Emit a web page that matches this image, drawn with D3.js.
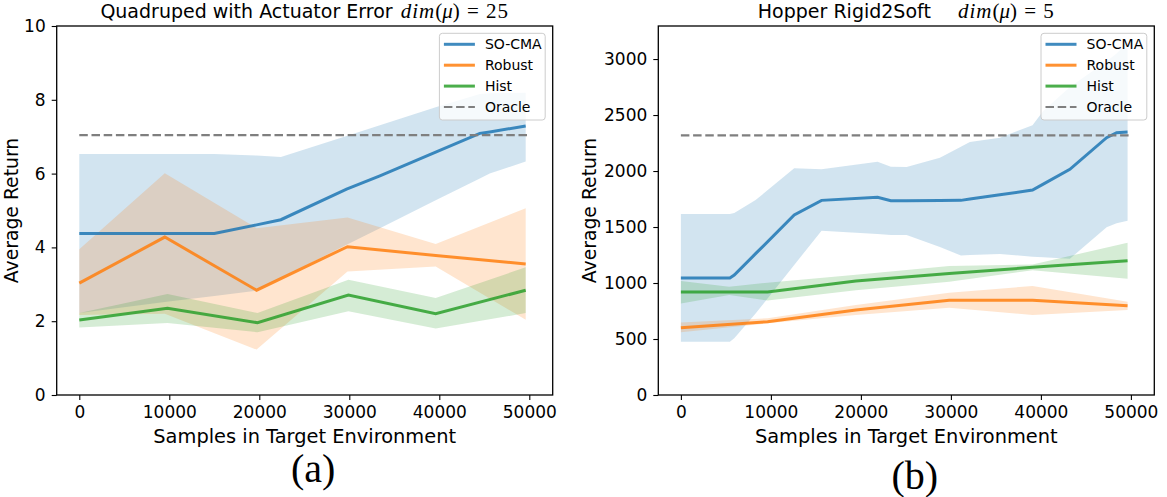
<!DOCTYPE html>
<html>
<head>
<meta charset="utf-8">
<script src="https://cdn.jsdelivr.net/npm/d3@7"></script>
<style>
  body { margin: 0; background: #fff; }
  svg { font-family: 'DejaVu Sans', sans-serif; }
</style>
</head>
<body>
<svg id="chart" width="1167" height="497"></svg>
<script>
// legend entries and colours
const methods = ['SO-CMA', 'Robust', 'Hist', 'Oracle'];
const colors = ['#1f77b4', '#ff7f0e', '#2ca02c', '#7f7f7f'];

const xTicks = [0, 10000, 20000, 30000, 40000, 50000];
const oracleX = [0, 50000];

// (a) Quadruped with Actuator Error
const quadYTicks = [0, 2, 4, 6, 8, 10];
const quadSoX = [0, 9700, 15000, 19700, 22400, 29700, 33400, 39600, 44500, 45600, 49600];
const quadSoMean = [4.38, 4.38, 4.38, 4.61, 4.75, 5.58, 5.94, 6.58, 7.09, 7.13, 7.29];
const quadSoLo = [2.22, 2.53, 2.68, 2.83, 3.18, 4.07, 4.52, 5.28, 5.87, 6.0, 6.33];
const quadSoHi = [6.53, 6.53, 6.53, 6.49, 6.45, 7.02, 7.31, 7.80, 8.16, 8.18, 8.19];
const quadRobX = [0, 9500, 19700, 29800, 39600, 49600];
const quadRobMean = [3.03, 4.28, 2.84, 4.02, 3.78, 3.55];
const quadRobLo = [2.17, 2.2, 1.23, 3.35, 3.48, 2.04];
const quadRobHi = [3.95, 6.01, 4.52, 4.81, 4.09, 5.06];
const quadHistX = [0, 9800, 19800, 29900, 39600, 49600];
const quadHistMean = [2.03, 2.35, 1.96, 2.71, 2.2, 2.84];
const quadHistLo = [1.83, 1.95, 1.70, 2.27, 1.80, 2.22];
const quadHistHi = [2.22, 2.74, 2.22, 3.12, 2.63, 3.46];
const quadOracle = 7.04;

// (b) Hopper Rigid2Soft
const hopYTicks = [0, 500, 1000, 1500, 2000, 2500, 3000];
const hopSoX = [0, 5440, 5930, 8300, 12590, 15630, 21850, 23330, 25080, 28780, 31110, 32110, 35440, 39070, 40260, 43220, 47300, 48410, 49630];
const hopSoMean = [1045, 1045, 1071, 1262, 1607, 1738, 1765, 1735, 1735, 1736, 1738, 1750, 1788, 1830, 1883, 2015, 2298, 2342, 2348];
const hopSoLo = [476, 476, 506, 727, 1161, 1467, 1438, 1429, 1429, 1321, 1246, 1250, 1259, 1235, 1229, 1217, 1497, 1533, 1556];
const hopSoHi = [1616, 1616, 1625, 1741, 2024, 2015, 2083, 2038, 2036, 2119, 2217, 2259, 2298, 2408, 2536, 2750, 2980, 3050, 3150];
const hopRobX = [0, 9630, 19440, 29810, 39070, 49630];
const hopRobMean = [601, 655, 759, 845, 845, 798];
const hopRobLo = [560, 640, 714, 780, 714, 759];
const hopRobHi = [648, 685, 804, 913, 973, 833];
const hopHistX = [0, 5370, 9630, 19440, 29810, 39070, 49630];
const hopHistMean = [920, 920, 920, 1018, 1086, 1140, 1199];
const hopHistLo = [818, 893, 843, 935, 1012, 1115, 1039];
const hopHistHi = [1018, 966, 1003, 1074, 1152, 1165, 1360];
const hopOracle = 2319;

const zip = (xs, m, lo, hi) => xs.map((x, i) => ({ x: x, m: m[i], lo: lo[i], hi: hi[i] }));

const panels = [
  {
    left: 56.7, top: 26, width: 496, height: 369,
    yDomain: [0, 10], yTicks: quadYTicks,
    title: 'Quadruped with Actuator Error', gap: 8, mathNum: '25',
    ylabelX: 17.5, caption: '(a)', captionY: 482,
    series: [
      zip(quadSoX, quadSoMean, quadSoLo, quadSoHi),
      zip(quadRobX, quadRobMean, quadRobLo, quadRobHi),
      zip(quadHistX, quadHistMean, quadHistLo, quadHistHi)
    ],
    oracle: quadOracle
  },
  {
    left: 658.3, top: 26, width: 496, height: 369,
    yDomain: [0, 3295], yTicks: hopYTicks,
    title: 'Hopper Rigid2Soft', gap: 27, mathNum: '5',
    ylabelX: 596, caption: '(b)', captionY: 489,
    series: [
      zip(hopSoX, hopSoMean, hopSoLo, hopSoHi),
      zip(hopRobX, hopRobMean, hopRobLo, hopRobHi),
      zip(hopHistX, hopHistMean, hopHistLo, hopHistHi)
    ],
    oracle: hopOracle
  }
];

const sans = "'DejaVu Sans', sans-serif";
const serif = "'Liberation Serif', 'DejaVu Serif', serif";

const svg = d3.select('#chart');

panels.forEach(p => {
  const x = d3.scaleLinear().domain([-2510, 52600]).range([p.left, p.left + p.width]);
  const y = d3.scaleLinear().domain(p.yDomain).range([p.top + p.height, p.top]);
  const g = svg.append('g');

  // bands first, then mean lines
  const area = d3.area().x(d => x(d.x)).y0(d => y(d.lo)).y1(d => y(d.hi));
  const line = d3.line().x(d => x(d.x)).y(d => y(d.m));

  p.series.forEach((s, i) => {
    g.append('path')
      .datum(s)
      .attr('d', area)
      .attr('fill', colors[i])
      .attr('fill-opacity', 0.2)
      .attr('stroke', 'none');
  });
  p.series.forEach((s, i) => {
    g.append('path')
      .datum(s)
      .attr('d', line)
      .attr('fill', 'none')
      .attr('stroke', colors[i])
      .attr('stroke-opacity', 0.85)
      .attr('stroke-width', 3);
  });

  g.append('line')
    .attr('x1', x(oracleX[0])).attr('x2', x(oracleX[1]))
    .attr('y1', y(p.oracle)).attr('y2', y(p.oracle))
    .attr('stroke', colors[3])
    .attr('stroke-width', 2.2)
    .attr('stroke-dasharray', '8.5,3.7');

  // axes
  const xAxis = g.append('g')
    .attr('transform', 'translate(0,' + (p.top + p.height) + ')')
    .call(d3.axisBottom(x).tickValues(xTicks).tickFormat(d3.format('d')).tickSize(5).tickPadding(6));
  const yAxis = g.append('g')
    .attr('transform', 'translate(' + p.left + ',0)')
    .call(d3.axisLeft(y).tickValues(p.yTicks).tickFormat(d3.format('d')).tickSize(5).tickPadding(6));
  [xAxis, yAxis].forEach(a => {
    a.attr('font-family', null).attr('font-size', null);
    a.select('.domain').remove();
    a.selectAll('line').attr('stroke', '#000').attr('stroke-width', 1.1);
    a.selectAll('text').style('font-size', '17px').style('font-family', sans).attr('fill', '#000');
  });

  g.append('rect')
    .attr('x', p.left).attr('y', p.top)
    .attr('width', p.width).attr('height', p.height)
    .attr('fill', 'none').attr('stroke', '#000').attr('stroke-width', 1.3);

  // legend
  const lg = g.append('g')
    .attr('transform', 'translate(' + (p.left + p.width - 7.5 - 105.8) + ',' + (p.top + 7.3) + ')');
  lg.append('rect')
    .attr('width', 105.8).attr('height', 86.7).attr('rx', 3)
    .attr('fill', '#fff').attr('fill-opacity', 0.8)
    .attr('stroke', '#cccccc').attr('stroke-width', 1);
  methods.forEach((m, i) => {
    const ry = 11 + i * 20.9;
    lg.append('line')
      .attr('x1', 4.5).attr('x2', 35.5).attr('y1', ry).attr('y2', ry)
      .attr('stroke', colors[i])
      .attr('stroke-opacity', i < 3 ? 0.85 : 1)
      .attr('stroke-width', i < 3 ? 3 : 2.2)
      .attr('stroke-dasharray', i < 3 ? null : '8.5,3.7');
    lg.append('text')
      .attr('x', 45.5).attr('y', ry).attr('dy', '0.36em')
      .style('font-size', '14px').style('font-family', sans)
      .text(m);
  });

  // titles and labels
  const cx = p.left + p.width / 2;
  const t = g.append('text')
    .attr('x', cx).attr('y', 18)
    .attr('text-anchor', 'middle')
    .style('font-size', '19px').style('font-family', sans);
  t.append('tspan').text(p.title);
  t.append('tspan').attr('dx', p.gap)
    .style('font-family', serif).style('font-style', 'italic').style('font-size', '21px')
    .attr('letter-spacing', 1).text('dim');
  t.append('tspan').style('font-family', serif).style('font-size', '21px').text('(');
  t.append('tspan').style('font-family', serif).style('font-style', 'italic').style('font-size', '21px').text('μ');
  t.append('tspan').style('font-family', serif).style('font-size', '21px')
    .attr('letter-spacing', 1).text(') = ' + p.mathNum);

  g.append('text')
    .attr('x', cx).attr('y', 443)
    .attr('text-anchor', 'middle')
    .style('font-size', '19.4px').style('font-family', sans)
    .text('Samples in Target Environment');

  g.append('text')
    .attr('transform', 'translate(' + p.ylabelX + ',' + (p.top + p.height / 2) + ') rotate(-90)')
    .attr('text-anchor', 'middle')
    .style('font-size', '18.8px').style('font-family', sans)
    .text('Average Return');

  g.append('text')
    .attr('x', cx + 8.5).attr('y', p.captionY)
    .attr('text-anchor', 'middle')
    .style('font-family', serif)
    .style('font-size', '40px')
    .text(p.caption);
});
</script>
</body>
</html>
